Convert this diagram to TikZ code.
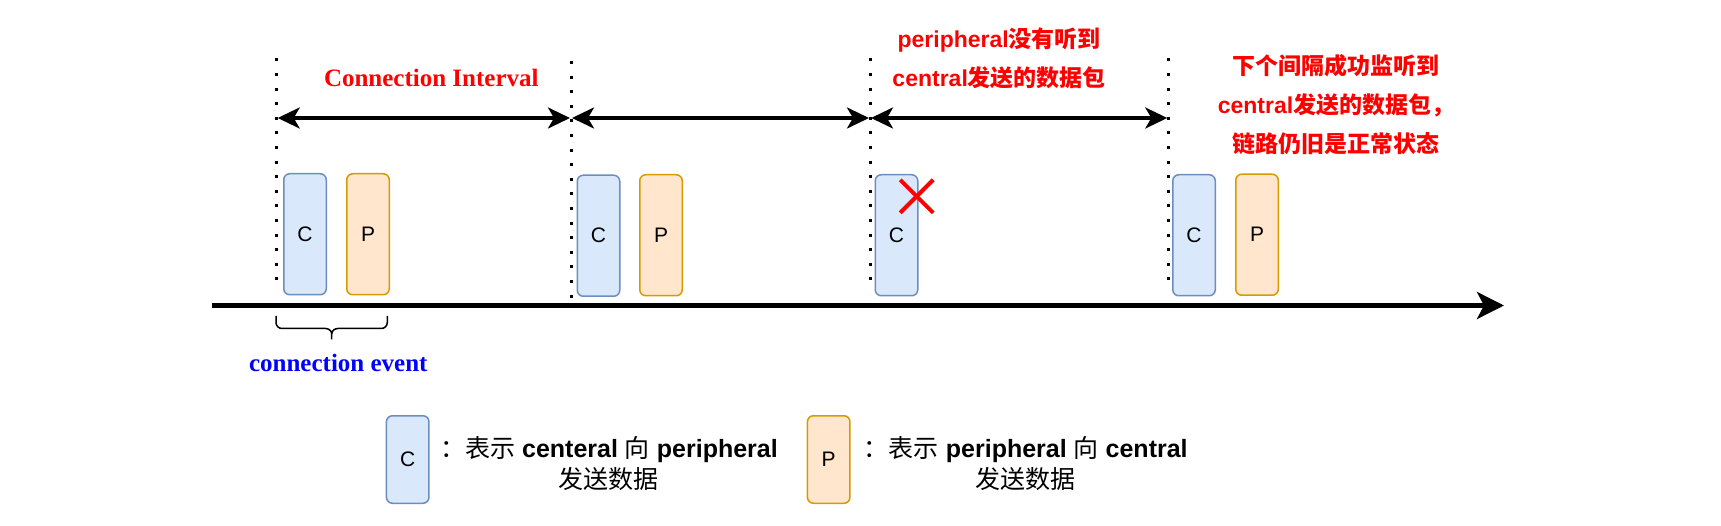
\documentclass[tikz,border=0pt]{standalone}
\usepackage{fontspec}
\setmainfont{Liberation Sans}
\newfontfamily\cjk{Noto Sans CJK SC}
\newfontfamily\tms{Liberation Serif}
\usetikzlibrary{arrows.meta}
\definecolor{cfill}{HTML}{DAE8FC}
\definecolor{cdraw}{HTML}{6C8EBF}
\definecolor{pfill}{HTML}{FFE6CC}
\definecolor{pdraw}{HTML}{D79B00}
\definecolor{myred}{HTML}{FF0000}
\definecolor{myblue}{HTML}{0000FF}
\begin{document}
\begin{tikzpicture}[x=1pt,y=-1pt,
  cbox/.style={draw=cdraw,fill=cfill,line width=1.5pt,rounded corners=6pt,
    minimum width=42.5pt,minimum height=121pt,anchor=north west,inner sep=0pt,outer sep=0pt,
    font=\fontsize{21}{25}\selectfont},
  pbox/.style={cbox,draw=pdraw,fill=pfill},
  lbox/.style={minimum height=87.5pt},
  vdots/.style={line width=3pt,dash pattern=on 3pt off 11.6pt},
  dim/.style={line width=3.3pt,shorten <=1pt,shorten >=1pt,
    {Stealth[length=22pt,width=21pt,inset=6pt]}-{Stealth[length=22pt,width=21pt,inset=6pt]}},
  axis/.style={line width=4.3pt,-{Stealth[length=27pt,width=27pt,inset=7pt]}},
  rtxt/.style={text=myred,font=\fontsize{23}{28}\selectfont\bfseries,inner sep=0pt,anchor=base},
  ttxt/.style={font=\tms\fontsize{25}{30}\selectfont\bfseries,inner sep=0pt,anchor=base},
  legtxt/.style={font=\fontsize{25}{30}\selectfont,inner sep=0pt,anchor=base},
  redx/.style={draw=myred,line width=4pt},
  bracestyle/.style={line width=1.5pt}
]
\useasboundingbox (0,0) rectangle (1721,526);

% dotted vertical lines
\coordinate (d1t) at (276.7,58.5); \coordinate (d1b) at (276.7,292);
\coordinate (d2t) at (571,61);     \coordinate (d2b) at (571,308);
\coordinate (d3t) at (870,58.5);   \coordinate (d3b) at (870,292);
\coordinate (d4t) at (1168.3,58.5);\coordinate (d4b) at (1168.3,292);
\draw[vdots] (d1t) -- (d1b);
\draw[vdots] (d2t) -- (d2b);
\draw[vdots] (d3t) -- (d3b);
\draw[vdots] (d4t) -- (d4b);

% interval arrows
\coordinate (a1) at (276.7,118);
\coordinate (a2) at (571,118);
\coordinate (a3) at (870,118);
\coordinate (a4) at (1168.3,118);
\draw[dim] (a1) -- (a2);
\draw[dim] (a2) -- (a3);
\draw[dim] (a3) -- (a4);

% time axis
\coordinate (ax0) at (212,305.5);
\coordinate (ax1) at (1504,305.5);
\draw[axis] (ax0) -- (ax1);

% packet boxes
\node[cbox] (c1) at (283.75,173.75) {C};
\node[pbox] (p1) at (346.75,173.75) {P};
\node[cbox] (c2) at (577.25,175.25) {C};
\node[pbox] (p2) at (639.75,174.75) {P};
\node[cbox] (c3) at (875.25,174.75) {C};
\node[cbox] (c4) at (1172.75,174.75) {C};
\node[pbox] (p4) at (1235.75,174.25) {P};

% red cross
\coordinate (x1) at (900.2,179.8); \coordinate (x2) at (933.2,212.8);
\coordinate (x3) at (933.2,179.8); \coordinate (x4) at (900.2,212.8);
\draw[redx] (x1) -- (x2);
\draw[redx] (x3) -- (x4);

% labels
\node[ttxt,text=myred] (ci) at (431.3,86.5) {Connection Interval};
\node[rtxt] (m1) at (999.2,48) {peripheral{\cjk 没有听到}};
\node[rtxt] (m2) at (999.2,87) {central{\cjk 发送的数据包}};
\node[rtxt] (r1) at (1336,75) {{\cjk 下个间隔成功监听到}};
\node[rtxt] (r2) at (1336,114) {central{\cjk 发送的数据包，}};
\node[rtxt] (r3) at (1336,153) {{\cjk 链路仍旧是正常状态}};

% brace
\draw[bracestyle] (276,316) -- (276,322.5) to[out=-90,in=180] (282,328.5) -- (325.5,328.5)
  to[out=0,in=90] (331.7,334) -- (331.7,339.5);
\draw[bracestyle] (387.3,316) -- (387.3,322.5) to[out=-90,in=0] (381.3,328.5) -- (337.9,328.5)
  to[out=180,in=90] (331.7,334);
\node[ttxt,text=myblue] (ce) at (338.3,371.5) {connection event};

% legend
\node[cbox,lbox] (lc) at (386.45,415.75) {C};
\node[legtxt] (lc1) at (609,457) {{\cjk ：表示} \textbf{centeral} {\cjk 向} \textbf{peripheral}};
\node[legtxt] (lc2) at (608.5,488.5) {{\cjk 发送数据}};
\node[pbox,lbox] (lp) at (807.45,415.75) {P};
\node[legtxt] (lp1) at (1025.8,457) {{\cjk ：表示} \textbf{peripheral} {\cjk 向} \textbf{central}};
\node[legtxt] (lp2) at (1025,488.5) {{\cjk 发送数据}};
\end{tikzpicture}
\end{document}
